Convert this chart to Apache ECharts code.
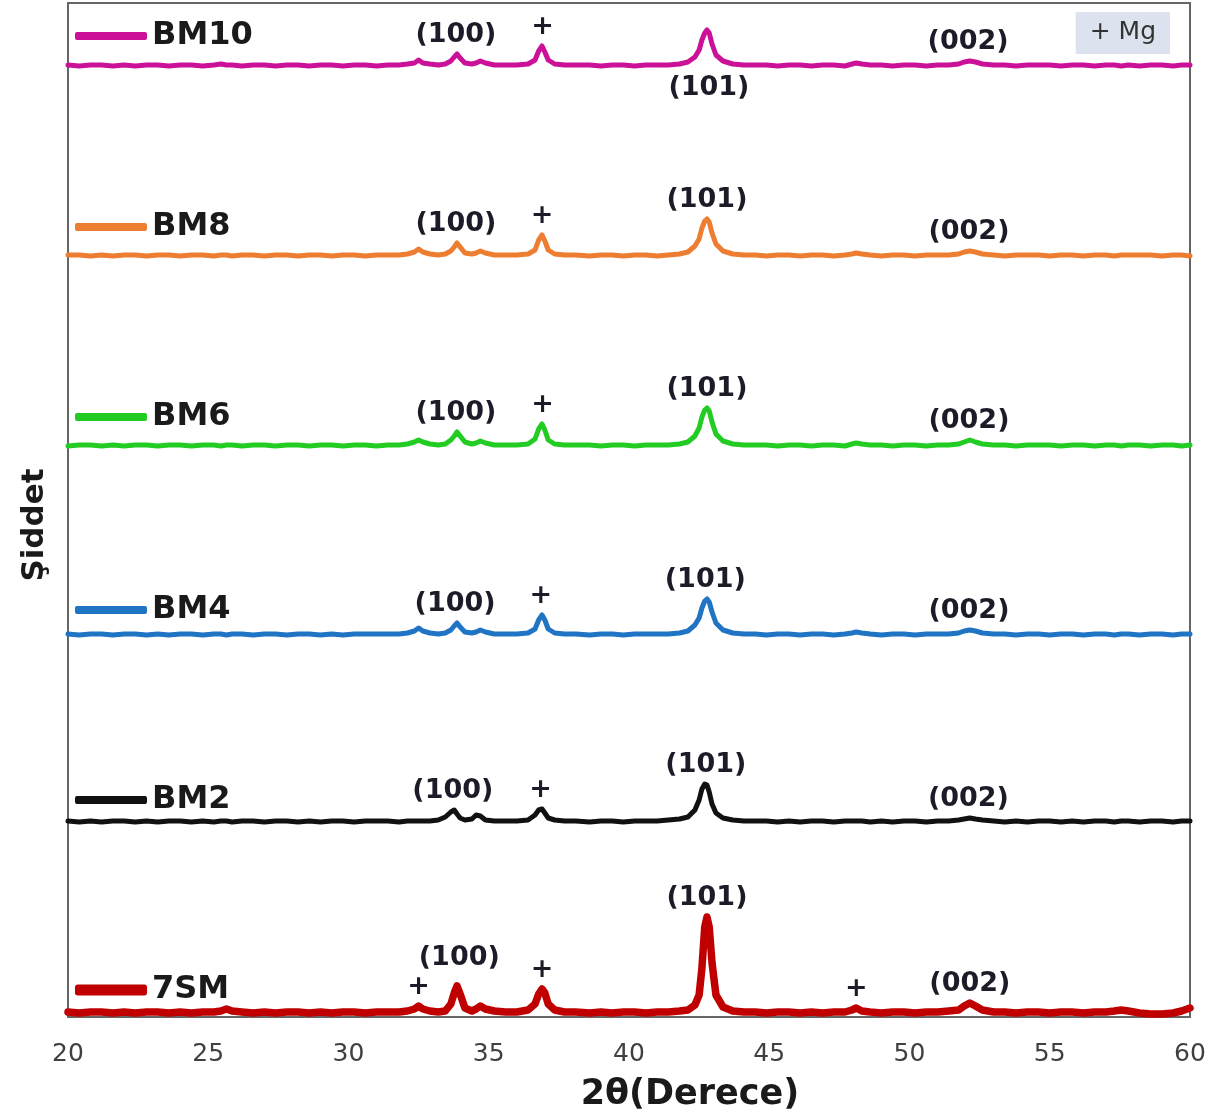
<!DOCTYPE html>
<html>
<head>
<meta charset="utf-8">
<title>XRD</title>
<script src="https://cdn.jsdelivr.net/npm/echarts@6/dist/echarts.min.js"></script>
<style>
  html, body { margin: 0; padding: 0; background: #fff; }
  #chart { width: 1220px; height: 1119px; }
</style>
</head>
<body>
<div id="chart"></div>
<script>
// 2θ sampling positions (degrees), shared by every pattern
const twoTheta = [
  20.0, 20.4, 20.8, 21.2, 21.6, 22.0, 22.4, 22.8, 23.2, 23.6,
  24.0, 24.4, 24.8, 25.2, 25.45, 25.65, 25.85, 26.2, 26.6, 27.0,
  27.4, 27.8, 28.2, 28.6, 29.0, 29.4, 29.8, 30.2, 30.6, 31.0,
  31.4, 31.8, 32.1, 32.35, 32.5, 32.65, 32.9, 33.2, 33.45, 33.65,
  33.77, 33.87, 33.98, 34.15, 34.4, 34.55, 34.7, 34.88, 35.2, 35.6,
  36.0, 36.4, 36.65, 36.78, 36.9, 37.0, 37.12, 37.35, 37.7, 38.1,
  38.6, 39.0, 39.4, 39.8, 40.2, 40.6, 41.0, 41.4, 41.8, 42.1,
  42.35, 42.5, 42.6, 42.7, 42.78, 42.86, 42.96, 43.1, 43.35, 43.7,
  44.1, 44.5, 44.9, 45.3, 45.7, 46.1, 46.5, 46.9, 47.3, 47.7,
  47.95, 48.1, 48.3, 48.6, 49.0, 49.4, 49.8, 50.2, 50.6, 51.0,
  51.4, 51.75, 51.95, 52.15, 52.35, 52.6, 53.0, 53.4, 53.8, 54.2,
  54.6, 55.0, 55.4, 55.8, 56.2, 56.6, 57.0, 57.3, 57.55, 57.8,
  58.2, 58.6, 59.0, 59.4, 59.7, 60.0
];

// Intensities (a.u., above each pattern's own baseline)
const int7SM = [
  1, 0, 1, 1, 0, 1, 0, 1, 1, 0,
  1, 0, 1, 1, 2, 4, 2, 1, 0, 1,
  0, 1, 1, 0, 1, 0, 1, 1, 0, 1,
  1, 1, 2, 4, 7, 4, 2, 1, 2, 9,
  20, 27, 19, 5, 2, 4, 7, 4, 2, 1,
  1, 3, 9, 19, 24, 20, 9, 3, 1, 1,
  0, 1, 0, 1, 1, 0, 1, 1, 2, 3,
  8, 18, 45, 86, 96, 86, 50, 18, 6, 2,
  1, 1, 0, 1, 1, 0, 1, 0, 1, 1,
  3, 5, 2, 1, 0, 1, 1, 0, 1, 1,
  2, 3, 7, 10, 7, 3, 1, 1, 0, 1,
  1, 0, 1, 1, 0, 1, 1, 2, 3, 2,
  0, -1, -1, 0, 2, 5
];
const intBM2 = [
  1, 0, 1, 0, 1, 1, 0, 1, 0, 1,
  1, 0, 1, 0, 1, 1, 0, 1, 1, 0,
  1, 1, 0, 1, 0, 1, 1, 0, 1, 1,
  1, 0, 1, 1, 1, 1, 1, 2, 5, 10,
  12, 8, 4, 2, 3, 7, 6, 2, 1, 1,
  1, 2, 7, 12, 13, 9, 4, 2, 1, 1,
  0, 1, 1, 0, 1, 1, 1, 2, 3, 5,
  12, 22, 33, 38, 37, 30, 18, 9, 4, 2,
  1, 1, 1, 0, 1, 0, 1, 1, 0, 1,
  1, 1, 1, 0, 1, 0, 1, 1, 0, 1,
  1, 2, 3, 4, 3, 2, 1, 0, 1, 0,
  1, 1, 0, 1, 0, 1, 1, 0, 1, 1,
  0, 1, 1, 0, 1, 1
];
const intBM4 = [
  1, 0, 1, 1, 0, 1, 1, 0, 1, 0,
  1, 1, 0, 1, 1, 0, 1, 1, 0, 1,
  1, 0, 1, 1, 0, 1, 0, 1, 1, 1,
  1, 1, 2, 4, 7, 4, 2, 1, 2, 5,
  9, 12, 8, 3, 2, 3, 5, 3, 1, 1,
  1, 2, 6, 15, 20, 15, 6, 2, 1, 1,
  0, 1, 1, 0, 1, 1, 1, 1, 2, 4,
  10, 17, 27, 34, 36, 33, 23, 12, 5, 2,
  1, 1, 0, 1, 1, 0, 1, 1, 0, 1,
  2, 3, 2, 1, 0, 1, 1, 0, 1, 1,
  1, 2, 4, 5, 4, 2, 1, 1, 0, 1,
  1, 0, 1, 1, 0, 1, 1, 0, 1, 1,
  0, 1, 1, 0, 1, 1
];
const intBM6 = [
  0, 1, 1, 0, 1, 0, 1, 1, 0, 1,
  1, 0, 1, 1, 0, 1, 1, 0, 1, 1,
  0, 1, 1, 0, 1, 1, 0, 1, 1, 0,
  1, 1, 2, 4, 6, 4, 2, 1, 2, 6,
  10, 14, 10, 4, 2, 3, 5, 3, 1, 1,
  1, 2, 7, 17, 22, 16, 6, 2, 1, 1,
  1, 0, 1, 1, 0, 1, 1, 1, 2, 4,
  10, 18, 29, 36, 38, 35, 24, 12, 5, 2,
  1, 1, 1, 0, 1, 1, 0, 1, 1, 0,
  2, 3, 2, 1, 1, 0, 1, 1, 0, 1,
  1, 2, 4, 6, 4, 2, 1, 1, 0, 1,
  1, 1, 0, 1, 1, 0, 1, 1, 0, 1,
  1, 0, 1, 1, 0, 1
];
const intBM8 = [
  1, 1, 0, 1, 0, 1, 1, 0, 1, 1,
  0, 1, 1, 0, 1, 1, 0, 1, 1, 0,
  1, 1, 0, 1, 1, 0, 1, 1, 0, 1,
  1, 1, 2, 4, 7, 4, 2, 1, 2, 5,
  9, 13, 9, 3, 2, 3, 5, 3, 1, 1,
  1, 2, 6, 16, 21, 15, 6, 2, 1, 1,
  0, 1, 1, 0, 1, 1, 0, 1, 2, 4,
  10, 17, 28, 35, 37, 34, 23, 12, 5, 2,
  1, 1, 0, 1, 1, 0, 1, 1, 0, 1,
  2, 3, 2, 1, 0, 1, 1, 0, 1, 1,
  1, 2, 4, 5, 4, 2, 1, 0, 1, 1,
  1, 0, 1, 1, 0, 1, 1, 0, 1, 1,
  1, 1, 0, 1, 1, 0
];
const intBM10 = [
  1, 0, 1, 1, 0, 1, 0, 1, 1, 0,
  1, 1, 0, 1, 2, 1, 1, 0, 1, 1,
  0, 1, 1, 0, 1, 1, 0, 1, 1, 0,
  1, 1, 2, 3, 6, 3, 2, 1, 2, 5,
  9, 12, 8, 3, 2, 3, 5, 3, 1, 1,
  1, 2, 6, 15, 20, 14, 6, 2, 1, 1,
  1, 0, 1, 1, 0, 1, 1, 1, 2, 4,
  9, 16, 26, 33, 36, 33, 22, 11, 5, 2,
  1, 1, 1, 0, 1, 1, 0, 1, 1, 0,
  2, 3, 2, 1, 1, 0, 1, 1, 0, 1,
  1, 2, 4, 5, 4, 2, 1, 1, 0, 1,
  1, 1, 0, 1, 1, 0, 1, 1, 0, 1,
  0, 1, 1, 0, 1, 1
];

// Sample names and vertical stacking offsets (a.u.)
const sampleNames = ['7SM', 'BM2', 'BM4', 'BM6', 'BM8', 'BM10'];
const stackOffsets = [4, 195, 382, 571, 761, 951];

// Peak indexing: [2θ, tag]
const tags7SM = [[32.5, '+'], [33.95, '(100)', 'high'], [36.9, '+'], [42.78, '(101)'], [48.1, '+'], [52.15, '(002)']];
const tagsBM2 = [[33.72, '(100)'], [36.85, '+'], [42.74, '(101)'], [52.1, '(002)']];
const tagsBM4 = [[33.8, '(100)'], [36.86, '+'], [42.72, '(101)'], [52.12, '(002)']];
const tagsBM6 = [[33.83, '(100)'], [36.92, '+'], [42.78, '(101)'], [52.12, '(002)']];
const tagsBM8 = [[33.83, '(100)'], [36.9, '+'], [42.78, '(101)'], [52.12, '(002)']];
const tagsBM10 = [[33.83, '(100)'], [36.92, '+'], [42.85, '(101)', 'below'], [52.09, '(002)']];

const xTicks = [20, 25, 30, 35, 40, 45, 50, 55, 60];

const intensities = [int7SM, intBM2, intBM4, intBM6, intBM8, intBM10];
const tagSets = [tags7SM, tagsBM2, tagsBM4, tagsBM6, tagsBM8, tagsBM10];
const colors = ['#c00000', '#111111', '#1f74c4', '#22cc22', '#ed7d31', '#cc1199'];
const lineWidths = [7.5, 5, 5, 5, 5, 5];
const legendCentres = [990, 800, 610, 417, 227, 36];

const textFont = '"DejaVu Sans", "Open Sans", sans-serif';

// local maximum of a pattern around a given angle
function peakAt(values, theta) {
  let best = -Infinity;
  twoTheta.forEach((t, i) => {
    if (Math.abs(t - theta) <= 0.16 && values[i] > best) best = values[i];
  });
  return best;
}

const series = sampleNames.map((name, k) => {
  const off = stackOffsets[k];
  const vals = intensities[k];
  return {
    name: name,
    type: 'line',
    color: colors[k],
    data: twoTheta.map((t, i) => [t, vals[i] + off]),
    showSymbol: false,
    symbol: 'none',
    lineStyle: { width: lineWidths[k], color: colors[k], join: 'round', cap: 'round' },
    z: 10 - k,
    markPoint: {
      symbol: 'circle',
      symbolSize: 1,
      itemStyle: { color: 'rgba(0,0,0,0)' },
      silent: true,
      data: tagSets[k].map(tg => {
        const below = tg[2] === 'below';
        const high = tg[2] === 'high';
        return {
          coord: [tg[0], off + (below ? 0 : peakAt(vals, tg[0]))],
          label: {
            show: true,
            formatter: tg[1],
            position: below ? 'bottom' : 'top',
            distance: below ? 8 : (high ? 14 : 5),
            fontFamily: textFont,
            fontWeight: 'bold',
            fontSize: 27,
            color: '#1c1c28'
          }
        };
      })
    }
  };
});

const legends = sampleNames.map((name, k) => ({
  data: [name],
  left: 75,
  top: legendCentres[k] - 19,
  padding: 0,
  icon: 'roundRect',
  itemWidth: 72,
  itemHeight: k === 0 ? 11 : 8,
  itemGap: 0,
  selectedMode: false,
  textStyle: {
    fontFamily: textFont,
    fontWeight: 'bold',
    fontSize: 32,
    lineHeight: 38,
    color: '#1a1a1a'
  }
}));

const chart = echarts.init(document.getElementById('chart'), null, { renderer: 'canvas' });
chart.setOption({
  animation: false,
  backgroundColor: '#ffffff',
  title: {
    text: '+ Mg',
    right: 50,
    top: 12,
    padding: [8, 14, 9, 14],
    backgroundColor: '#dde3ee',
    textStyle: {
      fontFamily: textFont,
      fontWeight: 'normal',
      fontSize: 25,
      color: '#333333'
    }
  },
  legend: legends,
  grid: {
    left: 68,
    right: 30,
    top: 3,
    bottom: 102,
    show: true,
    borderColor: '#666666',
    borderWidth: 2,
    backgroundColor: 'transparent'
  },
  xAxis: {
    type: 'value',
    min: xTicks[0],
    max: xTicks[xTicks.length - 1],
    interval: 5,
    axisLine: { show: false },
    axisTick: { show: false },
    splitLine: { show: false },
    axisLabel: {
      margin: 25,
      fontFamily: textFont,
      fontSize: 25,
      color: '#404040',
      formatter: v => (xTicks.includes(v) ? String(v) : '')
    },
    name: '2θ(Derece)',
    nameLocation: 'middle',
    nameGap: 60,
    nameTextStyle: {
      fontFamily: textFont,
      fontWeight: 'bold',
      fontSize: 35,
      color: '#1a1a1a',
      padding: [0, 0, 0, 122]
    }
  },
  yAxis: {
    type: 'value',
    min: 0,
    max: 1014,
    axisLine: { show: false },
    axisTick: { show: false },
    axisLabel: { show: false },
    splitLine: { show: false },
    name: 'Şiddet',
    nameLocation: 'middle',
    nameGap: 18,
    nameTextStyle: {
      fontFamily: textFont,
      fontWeight: 'bold',
      fontSize: 31,
      color: '#1a1a1a',
      padding: [0, 30, 0, 0]
    }
  },
  series: series
});
</script>
</body>
</html>
